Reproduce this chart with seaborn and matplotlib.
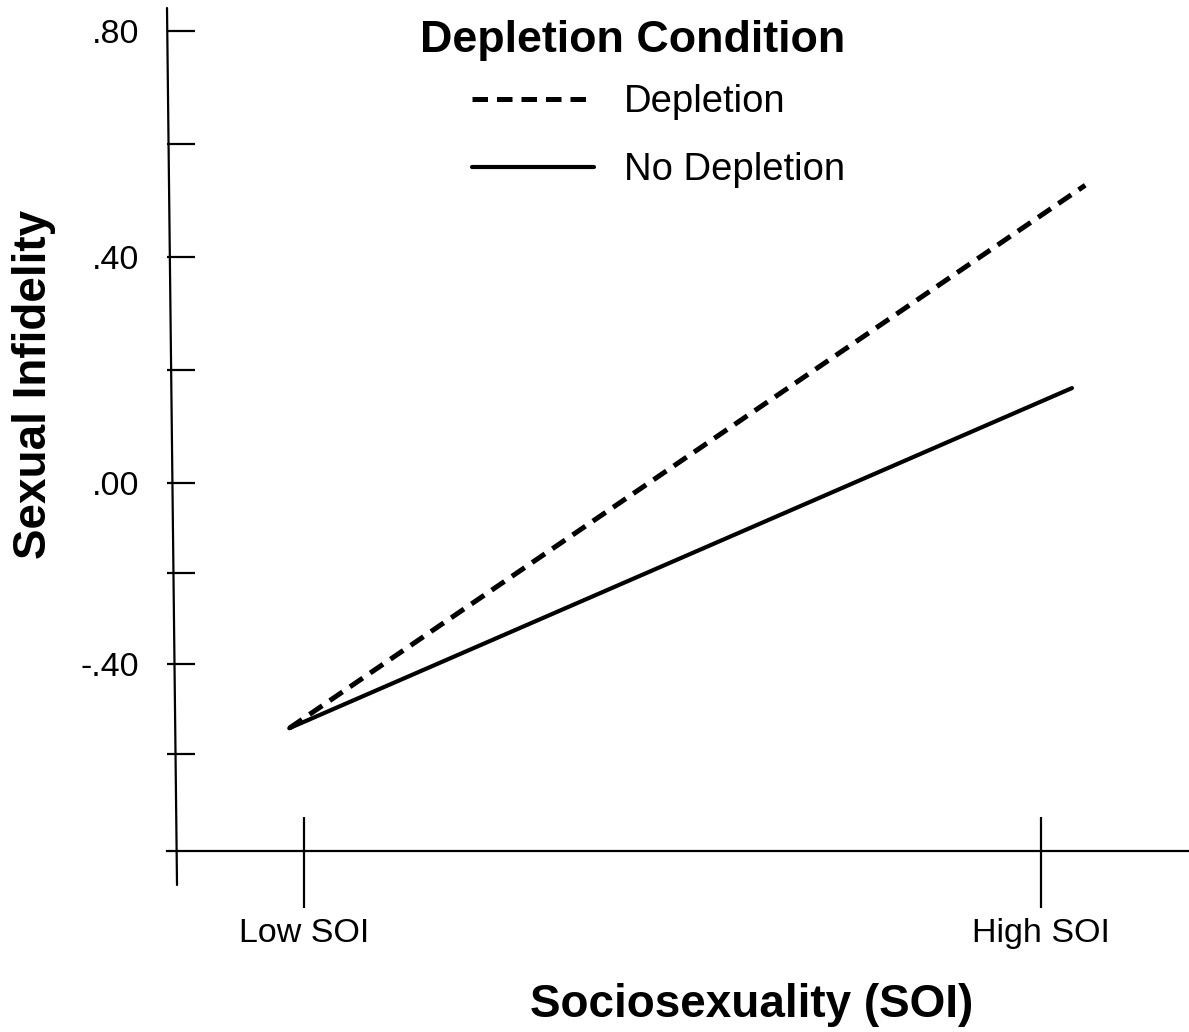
import pandas as pd
import seaborn as sns
import matplotlib.pyplot as plt

# Values (x: 0 = Low SOI, 1 = High SOI)
soi_labels = ['Low SOI', 'High SOI']
soi_pos = [0, 1]
depletion_x = [-0.02, 1.06]
depletion_y = [-0.434, 0.527]
no_depletion_x = [-0.02, 1.042]
no_depletion_y = [-0.434, 0.168]
conditions = ['Depletion', 'No Depletion']

# y ticks as drawn in the original (lower part has tighter spacing)
ytick_vals = [0.8, 0.6, 0.4, 0.2, 0.0, -0.16, -0.32, -0.48]
ytick_labels = ['.80', '', '.40', '', '.00', '', '-.40', '']

df = pd.DataFrame({
    'soi': depletion_x + no_depletion_x,
    'infidelity': depletion_y + no_depletion_y,
    'condition': [conditions[0]] * 2 + [conditions[1]] * 2,
})

sns.set_style('white')
plt.rcParams['font.family'] = ['Liberation Sans', 'DejaVu Sans']
plt.rcParams['text.color'] = 'black'
plt.rcParams['axes.labelcolor'] = 'black'

fig = plt.figure(figsize=(11.89, 10.32), dpi=100)
ax = fig.add_axes([167 / 1189, 1 - 851 / 1032, 1 - 167 / 1189, (851 - 8) / 1032])

sns.lineplot(data=df, x='soi', y='infidelity', style='condition',
             dashes={'Depletion': (3.1, 1.8), 'No Depletion': ''},
             color='black', estimator=None, sort=False, legend=False, ax=ax)
ax.lines[0].set_linewidth(3.6)
ax.lines[1].set_linewidth(3.0)

ax.set_xlim(-0.1859, 1.2008)
ax.set_ylim(-0.6513, 0.8407)

# axes lines
for s in ['top', 'right', 'left']:
    ax.spines[s].set_visible(False)
ax.spines['bottom'].set_linewidth(1.6)
ax.spines['bottom'].set_color('black')
# slightly slanted y axis, as in the original
ax.plot([0, 0.0098], [1, -0.0403], color='black', lw=1.6,
        transform=ax.transAxes, clip_on=False)

# y ticks
ax.set_yticks(ytick_vals)
ax.set_yticklabels(ytick_labels)
ax.tick_params(axis='y', direction='in', length=20, width=1.6, pad=20,
               labelsize=24.5, colors='black', left=True)

# x ticks crossing the axis: long outward major + shorter inward minor
ax.xaxis.remove_overlapping_locs = False
ax.set_xticks(soi_pos)
ax.set_xticklabels(soi_labels)
ax.set_xticks(soi_pos, minor=True)
ax.tick_params(axis='x', which='major', direction='out', length=41, width=1.6,
               pad=7, labelsize=24.5, colors='black', bottom=True)
ax.tick_params(axis='x', which='minor', direction='in', length=24.5, width=1.6,
               colors='black', bottom=True)

ax.set_xlabel('Sociosexuality (SOI)', fontsize=33, fontweight='bold', va='center')
ax.xaxis.set_label_coords(0.5724, -0.1827)
ax.set_ylabel('Sexual Infidelity', fontsize=33, fontweight='bold', va='center')
ax.yaxis.set_label_coords(-0.130, 0.553)

leg = ax.legend(ax.lines[:2], conditions, title='Depletion Condition',
                loc='upper right', bbox_to_anchor=(845 / 1189, 1 - 20 / 1032),
                bbox_transform=fig.transFigure, frameon=False, fontsize=27.5,
                handlelength=3.19, handletextpad=0.79, labelspacing=0.84,
                borderpad=0, borderaxespad=0, alignment='right',
                title_fontproperties={'size': 32.3, 'weight': 'bold'})
# tighter gap between the legend title and its entries
leg._legend_box.sep = 16.6

plt.savefig('out.png', dpi=100)
